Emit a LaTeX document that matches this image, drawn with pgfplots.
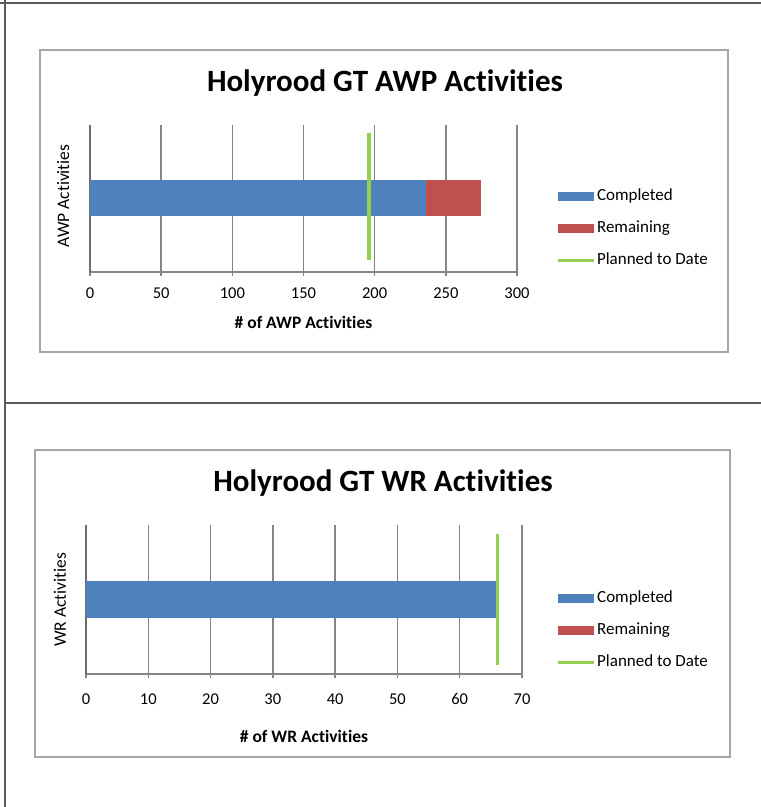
\documentclass[border=0pt]{standalone}
\usepackage{fontspec}
\setmainfont{Carlito}[Ligatures=NoCommon]
\usepackage{pgfplots}
\pgfplotsset{compat=1.18}

\definecolor{xlblue}{HTML}{4F81BD}
\definecolor{xlred}{HTML}{C0504D}
\definecolor{xlgreen}{HTML}{92D050}
\definecolor{gridgray}{HTML}{858585}
\definecolor{axisgray}{HTML}{6E6E6E}
\definecolor{boxgray}{HTML}{A6A6A6}
\definecolor{framegray}{HTML}{5A5A5A}

\pgfplotsset{
  actchart/.style={
    scale only axis,
    xbar stacked,
    ymin=0, ymax=1, ytick=\empty,
    axis x line*=bottom, axis y line*=left,
    x axis line style={-, gridgray, line width=1.8pt},
    y axis line style={-, axisgray, line width=1.8pt},
    xmajorgrids,
    grid style={gridgray, line width=1.5pt},
    tick align=outside, major tick length=4pt,
    tick style={gridgray, line width=1.5pt},
    /pgf/number format/assume math mode=true,
    xticklabel style={font=\fontsize{16.5}{18}\selectfont, anchor=center},
    xlabel style={font=\fontsize{17.5}{20}\selectfont\bfseries, anchor=center},
    ylabel style={font=\fontsize{17.5}{20}\selectfont, anchor=center},
    legend cell align=left,
    legend style={draw=none, fill=none, inner sep=0pt, anchor=west,
      font=\fontsize{17}{19}\selectfont, row sep=13pt,
      nodes={inner sep=2pt, text height=12pt, text depth=3pt}},
  },
  lineover/.style={scale only axis, hide axis, ymin=0, ymax=1},
}

\begin{document}
\begin{tikzpicture}
\path[use as bounding box] (0,0) rectangle (761pt,807pt);

% page frame and chart boxes
\draw[framegray, line width=2pt] (0,804pt) -- (761pt,804pt);
\draw[framegray, line width=2pt] (5pt,0) -- (5pt,807pt);
\draw[framegray, line width=2pt] (5pt,404pt) -- (761pt,404pt);
\draw[boxgray, line width=1.5pt] (40pt,455pt) rectangle (728pt,757pt);
\draw[boxgray, line width=1.5pt] (35pt,50pt) rectangle (730pt,357pt);

% ---------- AWP chart ----------
\node[font=\fontsize{31}{34}\selectfont\bfseries, anchor=base] at (385pt,715pt) {Holyrood GT AWP Activities};

\begin{axis}[actchart,
  at={(90pt,535pt)}, anchor=south west,
  width=427pt, height=147pt,
  xmin=0, xmax=300, xtick={0,50,...,300},
  xticklabel style={yshift=-17pt},
  xlabel={\# of AWP Activities},
  xlabel style={at={(axis description cs:0.5,-0.340)}},
  ylabel={AWP Activities},
  ylabel style={at={(axis description cs:-0.063,0.517)}},
  legend style={at={(1.091,0.299)}},
]
\addplot[fill=xlblue, draw=none, bar width=36pt,
  legend image code/.code={\fill[xlblue] (0pt,-4.5pt) rectangle (36pt,4.5pt);}]
  coordinates {(236,0.5)};
\addlegendentry{Completed}
\addplot[fill=xlred, draw=none, bar width=36pt,
  legend image code/.code={\fill[xlred] (0pt,-4.5pt) rectangle (36pt,4.5pt);}]
  coordinates {(39,0.5)};
\addlegendentry{Remaining}
\addlegendimage{legend image code/.code={\draw[xlgreen, line width=3pt] (0pt,0pt) -- (36pt,0pt);}}
\addlegendentry{Planned to Date}
\end{axis}

\begin{axis}[lineover,
  at={(90pt,535pt)}, anchor=south west,
  width=427pt, height=147pt, xmin=0, xmax=300]
\addplot[xlgreen, line width=4pt] coordinates {(196,0.082) (196,0.946)};
\end{axis}

% ---------- WR chart ----------
\node[font=\fontsize{31}{34}\selectfont\bfseries, anchor=base] at (383pt,315pt) {Holyrood GT WR Activities};

\begin{axis}[actchart,
  at={(86pt,133pt)}, anchor=south west,
  width=436pt, height=149pt,
  xmin=0, xmax=70, xtick={0,10,...,70},
  xticklabel style={yshift=-21pt},
  xlabel={\# of WR Activities},
  xlabel style={at={(axis description cs:0.5,-0.416)}},
  ylabel={WR Activities},
  ylabel style={at={(axis description cs:-0.060,0.497)}},
  legend style={at={(1.078,0.292)}},
]
\addplot[fill=xlblue, draw=none, bar width=37pt,
  legend image code/.code={\fill[xlblue] (0pt,-4.5pt) rectangle (36pt,4.5pt);}]
  coordinates {(66,0.5)};
\addlegendentry{Completed}
\addplot[fill=xlred, draw=none, bar width=37pt,
  legend image code/.code={\fill[xlred] (0pt,-4.5pt) rectangle (36pt,4.5pt);}]
  coordinates {(0,0.5)};
\addlegendentry{Remaining}
\addlegendimage{legend image code/.code={\draw[xlgreen, line width=3pt] (0pt,0pt) -- (36pt,0pt);}}
\addlegendentry{Planned to Date}
\end{axis}

\begin{axis}[lineover,
  at={(86pt,133pt)}, anchor=south west,
  width=436pt, height=149pt, xmin=0, xmax=70]
\addplot[xlgreen, line width=3pt] coordinates {(66,0.06) (66,0.94)};
\end{axis}

\end{tikzpicture}
\end{document}
